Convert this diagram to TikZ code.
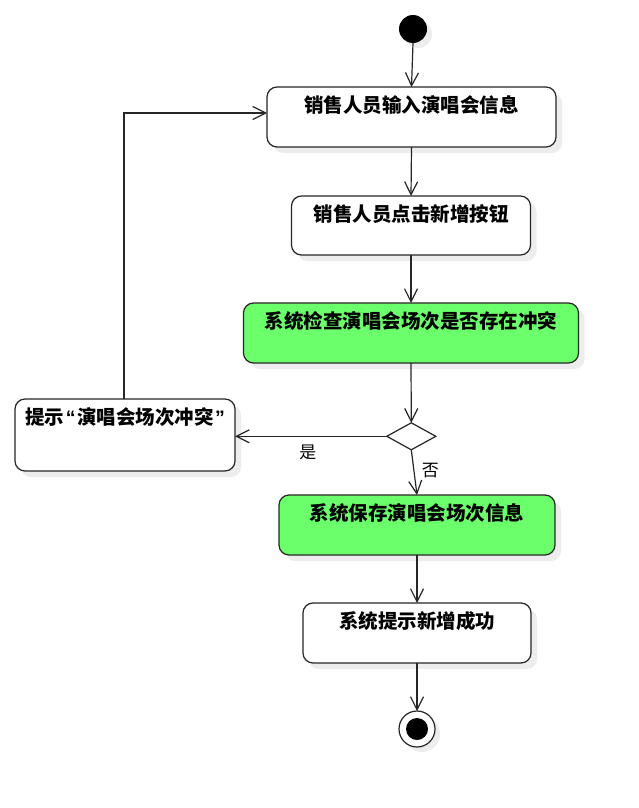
\documentclass[tikz,border=0pt]{standalone}
\usepackage{fontspec}
\newfontfamily\cjk{Noto Sans CJK SC}
\newfontfamily\latq{Liberation Sans}
\usetikzlibrary{arrows.meta,shapes.geometric,shadows}
\definecolor{actgreen}{RGB}{108,255,108}
\newcommand{\myquote}[1]{{\latq\bfseries\hspace{1.5pt}#1\hspace{1.5pt}}}
\begin{document}
\begin{tikzpicture}[x=1pt,y=-1pt,
  every node/.style={inner sep=0pt,outer sep=0pt},
  actbox/.style={draw=black!85,line width=1.2pt,rounded corners=10pt,fill=white,
    drop shadow={shadow xshift=6pt,shadow yshift=-6pt,fill=black!7,opacity=1}},
  greenbox/.style={actbox,fill=actgreen},
  acttext/.style={font=\cjk\bfseries\fontsize{19.5}{23}\selectfont,anchor=center},
  lbl/.style={font=\cjk\fontsize{17}{20}\selectfont},
  flow/.style={draw=black!85,line width=1.2pt,-{Straight Barb[length=13pt,width=13pt,line width=1.2pt]}}
]
\useasboundingbox[fill=white] (0,0) rectangle (639,808);

% start
\node[circle,fill=black,minimum size=28pt,
  drop shadow={shadow xshift=5pt,shadow yshift=-5pt,fill=black!7,opacity=1}] (start) at (413,29) {};

% boxes
\node[actbox,minimum width=289pt,minimum height=60pt] (b1) at (411.5,117) {};
\node[acttext] (t1) at ([yshift=-18.5pt]b1.north) {销售人员输入演唱会信息};

\node[actbox,minimum width=239pt,minimum height=59pt] (b2) at (411,225.5) {};
\node[acttext] (t2) at ([yshift=-18.5pt]b2.north) {销售人员点击新增按钮};

\node[greenbox,minimum width=335pt,minimum height=60pt] (b3) at (411,333) {};
\node[acttext] (t3) at ([yshift=-18.5pt]b3.north) {系统检查演唱会场次是否存在冲突};

\node[diamond,draw=black!85,line width=1.2pt,fill=white,minimum width=49pt,minimum height=27pt] (d) at (411.3,436.3) {};

\node[actbox,minimum width=220pt,minimum height=72pt] (b4) at (125,435) {};
\node[acttext] (t4) at ([yshift=-18pt]b4.north) {提示\myquote{“}演唱会场次冲突\myquote{”}};

\node[greenbox,minimum width=276pt,minimum height=60pt] (b5) at (417,525) {};
\node[acttext] (t5) at ([yshift=-18.5pt]b5.north) {系统保存演唱会场次信息};

\node[actbox,minimum width=228pt,minimum height=60pt] (b6) at (417,633) {};
\node[acttext] (t6) at ([yshift=-18.5pt]b6.north) {系统提示新增成功};

% end
\node[circle,draw=black!85,line width=1.2pt,fill=white,minimum size=36pt,
  drop shadow={shadow xshift=5pt,shadow yshift=-5pt,fill=black!7,opacity=1}] (end) at (417,729) {};
\node[circle,fill=black,minimum size=22pt] (endin) at (end.center) {};

% connectors
\draw[flow] (start.south) -- (b1.north);
\draw[flow] (b1.south) -- (b2.north);
\draw[flow] (b2.south) -- (b3.north);
\draw[flow] (b3.south) -- (d.north);
\draw[flow] (d.west) -- (b4.east |- d.west) node[lbl,pos=0.52,below=9pt] (yes) {是};
\draw[flow] (d.south) -- (b5.north) node[lbl,pos=0.45,right=8pt] (no) {否};
\draw[flow] (b5.south) -- (b6.north);
\draw[flow] (b6.south) -- (end.north);
\coordinate (c1) at (124,113);
\draw[flow] (b4.north -| c1) -- (c1) -- (c1 -| b1.west);
\end{tikzpicture}
\end{document}
